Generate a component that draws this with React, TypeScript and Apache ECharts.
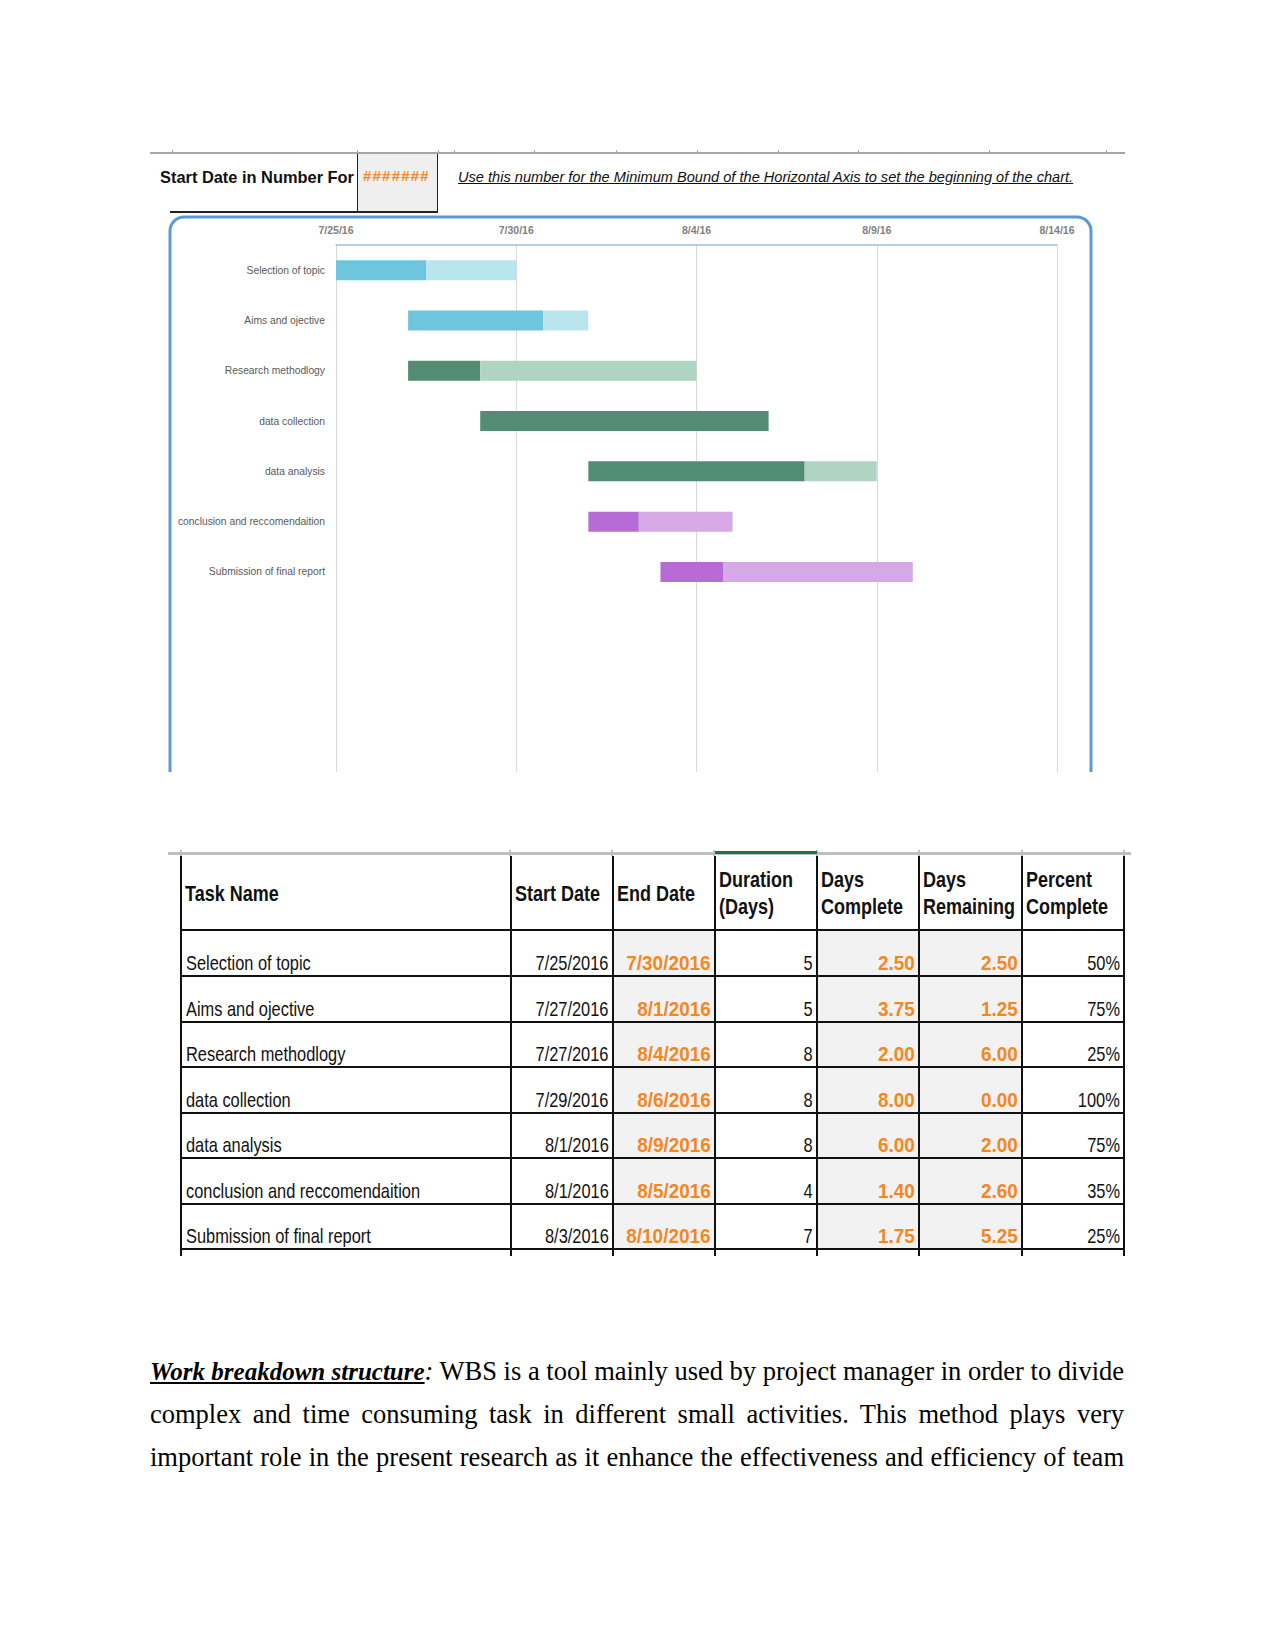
import React, { useEffect, useRef } from "react";
import * as echarts from "echarts";

// ---------------- data ----------------
const tasks = [
  "Selection of topic",
  "Aims and ojective",
  "Research methodlogy",
  "data collection",
  "data analysis",
  "conclusion and reccomendaition",
  "Submission of final report",
];
const startDates = ["7/25/2016", "7/27/2016", "7/27/2016", "7/29/2016", "8/1/2016", "8/1/2016", "8/3/2016"];
const endDates = ["7/30/2016", "8/1/2016", "8/4/2016", "8/6/2016", "8/9/2016", "8/5/2016", "8/10/2016"];
const durations = [5, 5, 8, 8, 8, 4, 7];
const daysComplete = [2.5, 3.75, 2, 8, 6, 1.4, 1.75];
const daysRemaining = [2.5, 1.25, 6, 0, 2, 2.6, 5.25];
const percentComplete = ["50%", "75%", "25%", "100%", "75%", "35%", "25%"];
const axisStartDate = "7/25/2016";
const axisTickLabels = ["7/25/16", "7/30/16", "8/4/16", "8/9/16", "8/14/16"];
const tableHeaders = [
  ["Task Name"],
  ["Start Date"],
  ["End Date"],
  ["Duration", "(Days)"],
  ["Days", "Complete"],
  ["Days", "Remaining"],
  ["Percent", "Complete"],
];

// ---------------- styles ----------------
const completeColors = ["#6EC6DE", "#6EC6DE", "#528C74", "#528C74", "#528C74", "#B86AD6", "#B86AD6"];
const remainingColors = ["#B9E5EF", "#B9E5EF", "#AFD4C3", "#AFD4C3", "#AFD4C3", "#D6A8E6", "#D6A8E6"];
const ORANGE = "#F5871F";
const CELL_FONT = "'Liberation Sans', Arial, sans-serif";

const DAY = 86400000;
function parseDate(s: string) {
  const [m, d, y] = s.split("/").map(Number);
  return Date.UTC(y, m - 1, d);
}

// table layout
const colX = [181, 510.5, 612.5, 714.5, 817, 919, 1022, 1124];
const rowY = [856, 930, 976, 1021.5, 1067, 1112.5, 1158, 1203.5, 1249];

function Squeeze({ children, scale, origin }: { children: React.ReactNode; scale: number; origin: string }) {
  return (
    <span style={{ display: "inline-block", transform: `scaleX(${scale})`, transformOrigin: origin, whiteSpace: "nowrap" }}>
      {children}
    </span>
  );
}

export default function App() {
  const ref = useRef<HTMLDivElement | null>(null);

  useEffect(() => {
    document.body.style.margin = "0";
    const chart = echarts.init(ref.current as HTMLDivElement, null, { renderer: "svg" });
    const origin = parseDate(axisStartDate);
    const offsets = startDates.map((s) => (parseDate(s) - origin) / DAY);
    const maxDay = (axisTickLabels.length - 1) * 5;
    const gridLeft = 170;
    const gridTop = 32;
    const gridWidth = 721;
    const band = 50.3;
    chart.setOption({
      animation: false,
      graphic: [
        {
          type: "rect",
          shape: { x: 4, y: 4, width: 921, height: 700, r: 14 },
          style: { fill: "none", stroke: "#5B9BD5", lineWidth: 3 },
          silent: true,
          z: 100,
        },
      ],
      grid: [
        { left: gridLeft, top: gridTop, width: gridWidth, height: band * tasks.length },
        { left: gridLeft, top: gridTop, width: gridWidth, bottom: 0 },
      ],
      xAxis: [
        {
          type: "value",
          gridIndex: 0,
          position: "top",
          min: 0,
          max: maxDay,
          interval: 5,
          axisLine: { show: true, lineStyle: { color: "#A4BCDA", width: 1.5 } },
          axisTick: { show: false },
          splitLine: { show: false },
          axisLabel: {
            margin: 10,
            color: "#7F7F7F",
            fontSize: 10.5,
            fontWeight: "bold",
            fontFamily: "'Liberation Sans', sans-serif",
            formatter: (v: number) => axisTickLabels[Math.round(v / 5)] ?? "",
          },
        },
        {
          type: "value",
          gridIndex: 1,
          min: 0,
          max: maxDay,
          interval: 5,
          axisLine: { show: false },
          axisTick: { show: false },
          axisLabel: { show: false },
          splitLine: { show: true, lineStyle: { color: "#D9D9D9", width: 1 } },
        },
      ],
      yAxis: [
        {
          type: "category",
          gridIndex: 0,
          data: tasks,
          inverse: true,
          axisLine: { show: false },
          axisTick: { show: false },
          axisLabel: {
            margin: 11,
            color: "#595959",
            fontSize: 10.3,
            fontFamily: "'Liberation Sans', sans-serif",
          },
        },
        { type: "value", gridIndex: 1, show: false },
      ],
      series: [
        {
          type: "bar",
          stack: "gantt",
          barWidth: 20,
          silent: true,
          itemStyle: { color: "rgba(0,0,0,0)" },
          data: offsets,
          z: 3,
        },
        {
          type: "bar",
          stack: "gantt",
          barWidth: 20,
          data: daysComplete.map((v, i) => ({ value: v, itemStyle: { color: completeColors[i] } })),
          z: 3,
        },
        {
          type: "bar",
          stack: "gantt",
          barWidth: 20,
          data: daysRemaining.map((v, i) => ({ value: v, itemStyle: { color: remainingColors[i] } })),
          z: 3,
        },
      ],
    });
    return () => chart.dispose();
  }, []);

  const abs = (s: React.CSSProperties): React.CSSProperties => ({ position: "absolute", ...s });

  // header strip ticks
  const topTicks = [172, 357, 438, 454, 534, 616, 697, 778, 858, 989, 1106];
  const tableTicks = [181, 510, 612, 714, 817, 919, 1022, 1124];

  const cells: React.ReactNode[] = [];
  // header
  tableHeaders.forEach((lines, c) => {
    cells.push(
      <div
        key={"h" + c}
        style={abs({
          left: colX[c] + 4,
          top: rowY[0],
          width: colX[c + 1] - colX[c] - 6,
          height: rowY[1] - rowY[0],
          display: "flex",
          flexDirection: "column",
          justifyContent: "center",
          fontFamily: CELL_FONT,
          fontWeight: "bold",
          fontSize: 22.5,
          lineHeight: "27px",
          color: "#111",
          whiteSpace: "nowrap",
        })}
      >
        {lines.map((l, k) => (
          <div key={k}>
            <Squeeze scale={0.8} origin="left center">
              {l}
            </Squeeze>
          </div>
        ))}
      </div>
    );
  });
  // body
  tasks.forEach((name, r) => {
    const vals = [
      name,
      startDates[r],
      endDates[r],
      String(durations[r]),
      daysComplete[r].toFixed(2),
      daysRemaining[r].toFixed(2),
      percentComplete[r],
    ];
    vals.forEach((v, c) => {
      const shaded = c === 2 || c === 4 || c === 5;
      const orange = shaded;
      cells.push(
        <div
          key={"c" + r + "_" + c}
          style={abs({
            left: colX[c],
            top: rowY[r + 1],
            width: colX[c + 1] - colX[c],
            height: rowY[r + 2] - rowY[r + 1],
            background: shaded ? "#F2F2F2" : "transparent",
            display: "flex",
            alignItems: "flex-end",
            justifyContent: c === 0 ? "flex-start" : "flex-end",
            boxSizing: "border-box",
            padding: c === 0 ? "0 0 1px 5px" : "0 4px 1px 0",
            fontFamily: CELL_FONT,
            fontSize: 21,
            lineHeight: "24px",
            fontWeight: orange ? "bold" : "normal",
            color: orange ? ORANGE : "#111",
            whiteSpace: "nowrap",
          })}
        >
          <Squeeze scale={orange ? 0.9 : 0.78} origin={c === 0 ? "left bottom" : "right bottom"}>
            {v}
          </Squeeze>
        </div>
      );
    });
  });
  // borders
  const lines: React.ReactNode[] = [];
  colX.forEach((x, i) => {
    lines.push(<div key={"v" + i} style={abs({ left: x - 1, top: rowY[0], width: 2, height: 1256 - rowY[0], background: "#111" })} />);
  });
  rowY.slice(1).forEach((y, i) => {
    lines.push(<div key={"hz" + i} style={abs({ left: colX[0] - 1, top: y - 1, width: colX[7] - colX[0] + 2, height: 2, background: "#111" })} />);
  });

  const paraLine: React.CSSProperties = {
    position: "absolute",
    left: 150,
    width: 974,
    fontFamily: "'Liberation Serif','Times New Roman',serif",
    fontSize: 26.5,
    lineHeight: "43px",
    textAlign: "justify",
    textAlignLast: "justify",
    whiteSpace: "nowrap",
    color: "#000",
  };

  return (
    <div style={{ position: "absolute", left: 0, top: 0, width: 1275, height: 1651, background: "#fff", overflow: "hidden" }}>
      {/* header strip */}
      <div style={abs({ left: 150, top: 152, width: 975, height: 2, background: "#A6A6A6" })} />
      {topTicks.map((x, i) => (
        <div key={"tt" + i} style={abs({ left: x, top: 150, width: 1, height: 3, background: "#A6A6A6" })} />
      ))}
      <div style={abs({ left: 357, top: 154, width: 81, height: 58, background: "#EFEFEF", borderLeft: "1.5px solid #222", borderRight: "1.5px solid #222", boxSizing: "border-box" })} />
      <div style={abs({ left: 170, top: 211, width: 268, height: 2, background: "#222" })} />
      <div
        style={abs({
          left: 160,
          top: 167,
          fontFamily: "'Liberation Sans', sans-serif",
          fontWeight: "bold",
          fontSize: 16.4,
          lineHeight: "20px",
          color: "#111",
          whiteSpace: "nowrap",
        })}
      >
        Start Date in Number For
      </div>
      <div
        style={abs({
          left: 363,
          top: 167,
          fontFamily: "'Liberation Sans', sans-serif",
          fontWeight: "bold",
          fontSize: 15,
          letterSpacing: "1.2px",
          lineHeight: "18px",
          color: ORANGE,
          whiteSpace: "nowrap",
        })}
      >
        #######
      </div>
      <div
        style={abs({
          left: 458,
          top: 168,
          fontFamily: "'Liberation Sans', sans-serif",
          fontStyle: "italic",
          fontSize: 14.6,
          lineHeight: "18px",
          color: "#111",
          textDecoration: "underline",
          whiteSpace: "nowrap",
        })}
      >
        Use this number for the Minimum Bound of the Horizontal Axis to set the beginning of the chart.
      </div>

      {/* gantt chart */}
      <div ref={ref} style={abs({ left: 166, top: 213, width: 928, height: 559 })} />

      {/* table */}
      <div style={abs({ left: 168, top: 852, width: 963, height: 3, background: "#BFBFBF" })} />
      {tableTicks.map((x, i) => (
        <div key={"tk" + i} style={abs({ left: x - 1, top: 850, width: 2, height: 6, background: "#BFBFBF" })} />
      ))}
      <div style={abs({ left: 715, top: 851, width: 102, height: 3, background: "#217346" })} />
      {cells}
      {lines}

      {/* paragraph */}
      <div style={{ ...paraLine, top: 1350 }}>
        <span style={{ fontWeight: "bold", fontStyle: "italic", textDecoration: "underline", fontSize: 25 }}>Work breakdown structure</span>
        <span style={{ fontStyle: "italic" }}>:</span> WBS is a tool mainly used by project manager in order to divide
      </div>
      <div style={{ ...paraLine, top: 1393 }}>
        complex and time consuming task in different small activities. This method plays very
      </div>
      <div style={{ ...paraLine, top: 1436 }}>
        important role in the present research as it enhance the effectiveness and efficiency of team
      </div>
    </div>
  );
}
